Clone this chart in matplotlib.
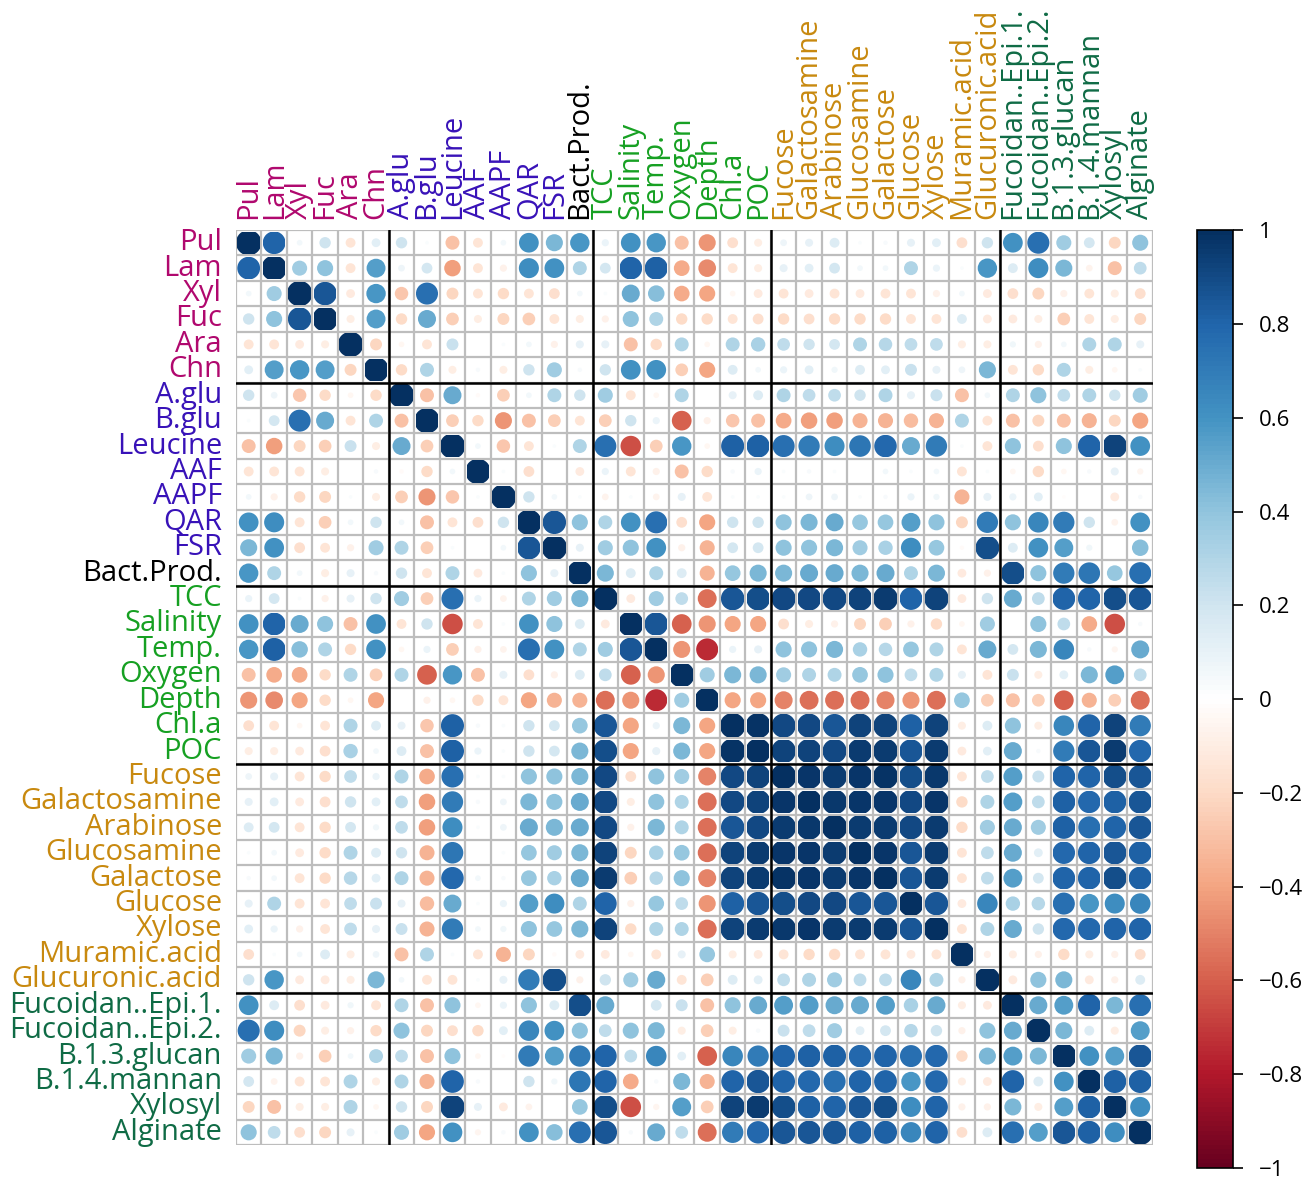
import numpy as np
import matplotlib
matplotlib.use("Agg")
from matplotlib import pyplot as plt
from matplotlib.colors import LinearSegmentedColormap, Normalize
from matplotlib.patches import Circle, Rectangle
import matplotlib.colorbar as mcolorbar

plt.rcParams['font.family'] = ['Open Sans', 'DejaVu Sans']

# Variables, in the order of rows/columns
labels = ["Pul", "Lam", "Xyl", "Fuc", "Ara", "Chn",
          "A.glu", "B.glu", "Leucine", "AAF", "AAPF", "QAR", "FSR",
          "Bact.Prod.",
          "TCC", "Salinity", "Temp.", "Oxygen", "Depth", "Chl.a", "POC",
          "Fucose", "Galactosamine", "Arabinose", "Glucosamine", "Galactose",
          "Glucose", "Xylose", "Muramic.acid", "Glucuronic.acid",
          "Fucoidan..Epi.1.", "Fucoidan..Epi.2.", "B.1.3.glucan",
          "B.1.4.mannan", "Xylosyl", "Alginate"]

# label colour for every variable
label_colors = (["#B0086E"] * 6 + ["#3812B8"] * 7 + ["#000000"]
                + ["#16A022"] * 7 + ["#C8890F"] * 9 + ["#0F6B45"] * 6)

# group boundaries (after these many variables)
group_breaks = [6, 14, 21, 30]

# correlations, lower triangle (row i holds columns 0..i-1)
lower_rows = [
    [],
    [0.8],
    [0.05, 0.35],
    [0.2, 0.4, 0.85],
    [-0.15, -0.15, -0.12, -0.1],
    [0.12, 0.55, 0.58, 0.55, -0.22],
    [0.2, 0.07, -0.28, -0.2, -0.05, -0.2],
    [0.02, 0.18, 0.75, 0.5, -0.15, 0.3, -0.3],
    [-0.3, -0.42, -0.22, -0.25, 0.22, -0.1, 0.5, -0.25],
    [-0.15, -0.15, -0.15, -0.1, 0.0, 0.03, -0.03, -0.2, 0.05],
    [0.05, -0.08, -0.2, -0.22, 0.02, -0.1, -0.25, -0.45, -0.28, 0.02],
    [0.6, 0.62, -0.15, -0.25, 0.05, 0.2, 0.05, -0.3, -0.15, -0.18, 0.2],
    [0.45, 0.6, -0.18, -0.15, -0.08, 0.35, 0.3, -0.25, 0.02, 0.0, 0.05, 0.85],
    [0.58, 0.3, 0.05, -0.1, 0.1, 0.03, 0.2, -0.15, 0.3, -0.12, 0.02, 0.4,
     0.1],
    [0.08, 0.18, 0.02, -0.08, 0.1, 0.2, 0.35, -0.25, 0.75, 0.08, -0.07, 0.3,
     0.35, 0.45],
    [0.6, 0.8, 0.5, 0.4, -0.3, 0.6, -0.15, 0.2, -0.65, -0.15, 0.02, 0.6,
     0.4, 0.15, -0.12],
    [0.58, 0.82, 0.42, 0.3, -0.2, 0.6, -0.05, 0.08, -0.25, -0.08, -0.07, 0.75,
     0.6, 0.3, 0.35, 0.85],
    [-0.3, -0.38, -0.38, -0.2, 0.3, -0.25, 0.3, -0.6, 0.58, -0.3, 0.1, -0.18,
     -0.08, 0.15, 0.25, -0.6, -0.45],
    [-0.45, -0.48, -0.4, -0.2, -0.05, -0.4, 0.0, -0.08, -0.05, -0.2, -0.15, -0.4,
     -0.35, -0.35, -0.55, -0.45, -0.75, 0.35],
    [-0.18, -0.15, -0.05, -0.15, 0.3, 0.15, 0.1, -0.28, 0.82, 0.03, 0.02, 0.2,
     0.18, 0.38, 0.85, -0.4, 0.08, 0.45, -0.4],
    [-0.1, -0.1, -0.12, -0.18, 0.32, 0.05, 0.15, -0.3, 0.82, 0.08, 0.02, 0.2,
     0.18, 0.45, 0.88, -0.4, 0.1, 0.45, -0.4, 0.98],
    [0.07, 0.1, -0.15, -0.2, 0.25, 0.08, 0.3, -0.38, 0.75, 0.02, 0.02, 0.4,
     0.4, 0.45, 0.9, -0.18, 0.4, 0.35, -0.5, 0.9, 0.92],
    [0.1, 0.12, -0.12, -0.18, 0.2, 0.12, 0.25, -0.42, 0.7, 0.03, 0.07, 0.45,
     0.4, 0.5, 0.9, -0.1, 0.4, 0.3, -0.55, 0.9, 0.92, 0.97],
    [0.15, 0.18, -0.15, -0.2, 0.18, 0.06, 0.25, -0.42, 0.62, 0.02, 0.07, 0.5,
     0.45, 0.5, 0.9, -0.08, 0.45, 0.3, -0.55, 0.85, 0.9, 0.95, 0.96],
    [0.02, 0.05, -0.12, -0.2, 0.3, 0.15, 0.2, -0.35, 0.72, 0.0, 0.02, 0.38,
     0.35, 0.45, 0.92, -0.22, 0.32, 0.38, -0.55, 0.92, 0.95, 0.97, 0.97, 0.95],
    [0.03, 0.05, -0.15, -0.2, 0.28, 0.12, 0.3, -0.35, 0.78, 0.05, 0.03, 0.38,
     0.32, 0.5, 0.95, -0.25, 0.28, 0.4, -0.5, 0.92, 0.95, 0.98, 0.97, 0.95,
     0.97],
    [0.1, 0.3, -0.15, -0.15, 0.25, 0.22, 0.1, -0.32, 0.5, 0.02, 0.08, 0.55,
     0.62, 0.3, 0.8, -0.08, 0.38, 0.25, -0.45, 0.82, 0.85, 0.88, 0.9, 0.9,
     0.85, 0.85],
    [0.12, 0.08, -0.08, -0.15, 0.25, 0.1, 0.22, -0.35, 0.7, 0.05, 0.06, 0.4,
     0.38, 0.45, 0.92, -0.2, 0.3, 0.3, -0.55, 0.92, 0.95, 0.96, 0.97, 0.95,
     0.95, 0.95, 0.85],
    [-0.18, 0.02, 0.05, 0.15, -0.1, 0.07, -0.3, 0.3, 0.02, -0.15, -0.35, -0.22,
     -0.03, -0.12, -0.12, -0.05, -0.15, 0.1, 0.38, -0.1, -0.12, -0.15, -0.2, -0.2,
     -0.15, -0.15, -0.12, -0.15],
    [0.2, 0.58, -0.12, -0.12, -0.1, 0.45, 0.05, -0.15, -0.15, 0.02, 0.1, 0.7,
     0.88, -0.08, 0.2, 0.35, 0.5, -0.15, -0.25, 0.15, 0.12, 0.25, 0.3, 0.35,
     0.25, 0.25, 0.65, 0.3, -0.08],
    [0.6, 0.15, -0.18, -0.12, 0.06, -0.15, 0.3, -0.3, 0.4, -0.05, 0.08, 0.4,
     0.15, 0.88, 0.5, 0.0, 0.18, 0.22, -0.3, 0.4, 0.5, 0.55, 0.55, 0.5,
     0.5, 0.55, 0.32, 0.5, -0.1, -0.12],
    [0.75, 0.62, -0.22, -0.1, -0.08, -0.2, 0.4, -0.22, -0.18, -0.2, 0.12, 0.65,
     0.6, 0.4, 0.25, 0.4, 0.45, -0.1, -0.25, -0.1, 0.03, 0.22, 0.25, 0.35,
     0.12, 0.18, 0.28, 0.2, -0.08, 0.4, 0.5],
    [0.35, 0.45, -0.08, -0.25, 0.05, 0.3, 0.25, -0.3, 0.4, -0.05, -0.02, 0.7,
     0.55, 0.7, 0.8, 0.25, 0.65, 0.12, -0.6, 0.65, 0.7, 0.8, 0.82, 0.82,
     0.78, 0.8, 0.75, 0.78, -0.2, 0.45, 0.55, 0.45],
    [0.18, -0.07, -0.15, -0.15, 0.3, -0.1, 0.3, -0.35, 0.8, 0.03, 0.0, 0.2,
     0.06, 0.72, 0.8, -0.38, 0.03, 0.45, -0.35, 0.8, 0.85, 0.8, 0.78, 0.75,
     0.8, 0.8, 0.58, 0.78, -0.1, -0.12, 0.8, 0.15, 0.6],
    [-0.22, -0.3, -0.1, -0.1, 0.3, -0.05, 0.2, -0.22, 0.92, 0.1, -0.12, -0.07,
     0.0, 0.38, 0.88, -0.65, -0.06, 0.55, -0.25, 0.92, 0.95, 0.88, 0.82, 0.8,
     0.85, 0.88, 0.62, 0.8, -0.08, -0.08, 0.45, -0.1, 0.55, 0.82],
    [0.4, 0.25, -0.18, -0.22, 0.1, 0.02, 0.35, -0.4, 0.6, -0.06, 0.03, 0.6,
     0.42, 0.75, 0.85, 0.03, 0.5, 0.25, -0.55, 0.7, 0.78, 0.85, 0.85, 0.85,
     0.82, 0.82, 0.65, 0.8, -0.18, 0.15, 0.75, 0.55, 0.85, 0.82, 0.62],
]

n = len(labels)
corr = np.eye(n)
for i, row in enumerate(lower_rows):
    for j, v in enumerate(row):
        corr[i, j] = v
        corr[j, i] = v

# red-blue diverging palette
cmap = LinearSegmentedColormap.from_list(
    "rdbu", ["#67001F", "#B2182B", "#D6604D", "#F4A582", "#FDDBC7", "#FFFFFF",
             "#D1E5F0", "#92C5DE", "#4393C3", "#2166AC", "#053061"], N=200)
norm = Normalize(-1, 1)

fig = plt.figure(figsize=(13.05, 11.79), dpi=100)
ax = fig.add_axes([0.1808, 0.0288, 0.7027, 0.7761])
ax.set_xlim(0, n)
ax.set_ylim(n, 0)
ax.axis("off")

# cell grid
for k in range(n + 1):
    ax.plot([k, k], [0, n], color="#BDBDBD", lw=1.6, zorder=1)
    ax.plot([0, n], [k, k], color="#BDBDBD", lw=1.6, zorder=1)

# circles: area proportional to |r|, the biggest ones trimmed to the cell
inset = 0.06
for i in range(n):
    for j in range(n):
        r = corr[i, j]
        c = Circle((j + 0.5, i + 0.5), 0.5 * np.sqrt(abs(r)),
                   facecolor=cmap(norm(r)), edgecolor="none", zorder=2)
        ax.add_patch(c)
        box = Rectangle((j + inset, i + inset), 1 - 2 * inset, 1 - 2 * inset,
                        transform=ax.transData)
        c.set_clip_path(box)

# group separators
for b in group_breaks:
    ax.plot([b, b], [0, n], color="black", lw=1.8, zorder=3)
    ax.plot([0, n], [b, b], color="black", lw=1.8, zorder=3)

for i, (lab, c) in enumerate(zip(labels, label_colors)):
    ax.text(-0.55, i + 0.5, lab, ha="right", va="center", fontsize=21,
            color=c, clip_on=False)
    ax.text(i + 0.5, -0.45, lab, ha="center", va="bottom", rotation=90,
            fontsize=21, color=c, clip_on=False)

# colour legend
cax = fig.add_axes([0.9172, 0.0093, 0.0276, 0.7955])
cb = mcolorbar.ColorbarBase(cax, cmap=cmap, norm=norm, orientation="vertical")
ticks = np.linspace(-1, 1, 11)
cb.set_ticks(ticks)
cb.set_ticklabels(["\u22121", "\u22120.8", "\u22120.6", "\u22120.4", "\u22120.2",
                   "0", "0.2", "0.4", "0.6", "0.8", "1"])
cax.tick_params(labelsize=16, length=7, width=1.2, pad=12)
cb.outline.set_linewidth(1.2)

fig.savefig("out.png", dpi=100)
